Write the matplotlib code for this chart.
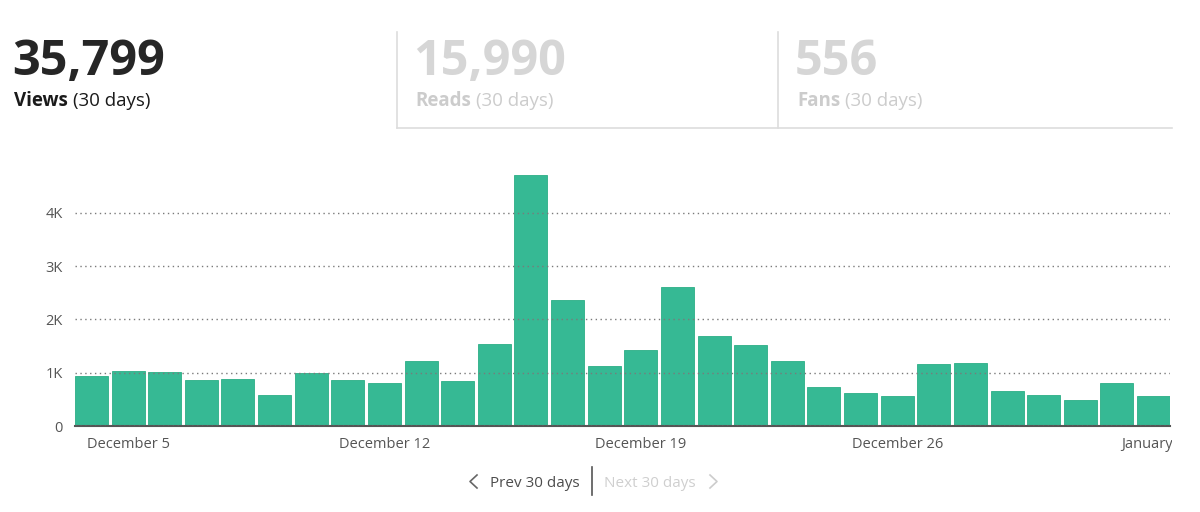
import matplotlib
matplotlib.use('Agg')
import matplotlib.pyplot as plt
from matplotlib.lines import Line2D
from matplotlib.transforms import Bbox, TransformedBbox

plt.rcParams['font.family'] = ['Open Sans', 'DejaVu Sans']

# daily views, Dec 4 .. Jan 2
views = [930, 1040, 1010, 870, 885, 575, 990, 870, 810, 1225,
         845, 1530, 4710, 2360, 1125, 1420, 2610, 1690, 1510, 1210,
         740, 610, 570, 1160, 1190, 665, 590, 480, 810, 560]
tick_pos = [1, 8, 15, 22, 29]
tick_labels = ['December 5', 'December 12', 'December 19', 'December 26', 'January 2']
y_ticks = [0, 1000, 2000, 3000, 4000]
y_labels = ['0', '1K', '2K', '3K', '4K']

stat_values = ['35,799', '15,990', '556']
stat_names = ['Views', 'Reads', 'Fans']
stat_x = [14, 415, 797]

W, H = 1200, 512
fig = plt.figure(figsize=(W / 100, H / 100), dpi=100)


def px(x, y):
    return x / W, 1 - y / H


# header stats
r = fig.canvas.get_renderer()
for i, (val, name, x0) in enumerate(zip(stat_values, stat_names, stat_x)):
    col = '#262626' if i == 0 else '#d6d6d6'
    col2 = '#1a1a1a' if i == 0 else '#cccccc'
    fig.text(*px(x0 - 2, 75), val, fontsize=35, fontweight='bold', color=col, va='baseline')
    t = fig.text(*px(x0, 106), name, fontsize=13.5, fontweight='bold', color=col2, va='baseline')
    bb = t.get_window_extent(renderer=r)
    fig.text((bb.x1 + 5) / W, 1 - 106 / H, '(30 days)', fontsize=13.5, color=col2, va='baseline')

line_col = '#dddddd'
for xa, ya, xb, yb in [(397, 32, 397, 128), (397, 128, 1172, 128), (778, 32, 778, 128)]:
    fig.add_artist(Line2D([xa / W, xb / W], [1 - ya / H, 1 - yb / H], color=line_col, lw=1.2))

# chart
ax = fig.add_axes([75 / W, 86 / H, 1095 / W, 256 / H])
ax.bar(range(len(views)), views, width=0.9, color='#36b994', edgecolor='#2cae86', linewidth=0.6)
ax.set_xlim(-0.45, len(views) - 0.55)
ax.set_ylim(0, 4800)
ax.set_yticks(y_ticks)
ax.set_yticklabels(y_labels)
ax.set_xticks(tick_pos)
ax.set_xticklabels(tick_labels)
ax.tick_params(length=0, labelsize=10.5, labelcolor='#555555')
ax.tick_params(axis='y', pad=9)
ax.tick_params(axis='x', pad=8)
for s in ['top', 'right', 'left']:
    ax.spines[s].set_visible(False)
ax.spines['bottom'].set_color('#555555')
ax.spines['bottom'].set_linewidth(1.5)
ax.set_axisbelow(False)
ax.yaxis.grid(True, color='#7a7a7a', linestyle=(0, (1, 2.5)), linewidth=1)
ax.xaxis.grid(False)

clip = TransformedBbox(Bbox([[0, 0], [1172 / W, 1]]), fig.transFigure)
for lbl in ax.get_xticklabels():
    lbl.set_clip_box(clip)
    lbl.set_clip_on(True)

# pager
fig.add_artist(Line2D([477 / W, 470 / W, 477 / W], [1 - 475 / H, 1 - 481.5 / H, 1 - 488 / H],
                      color='#666666', lw=1.2))
fig.add_artist(Line2D([710 / W, 717 / W, 710 / W], [1 - 475 / H, 1 - 481.5 / H, 1 - 488 / H],
                      color='#cccccc', lw=1.2))
fig.text(*px(490, 487), 'Prev 30 days', fontsize=11, color='#4d4d4d', va='baseline')
fig.text(*px(604, 487), 'Next 30 days', fontsize=11, color='#cfcfcf', va='baseline')
fig.add_artist(Line2D([592 / W, 592 / W], [1 - 467 / H, 1 - 495 / H], color='#555555', lw=1.2))

fig.savefig('out.png', dpi=100)
